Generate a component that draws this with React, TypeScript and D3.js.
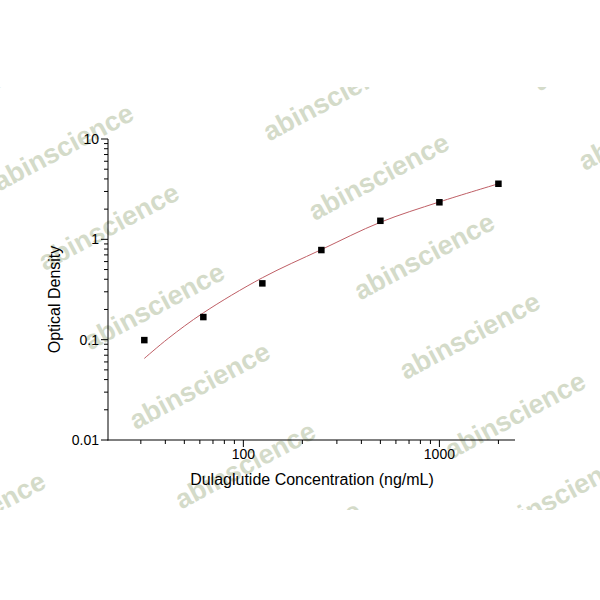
import React from 'react';
import * as d3 from 'd3';

// Standards (ng/mL) and measured optical density
const concentrations = [31.25, 62.5, 125, 250, 500, 1000, 2000];
const odValues = [0.099, 0.168, 0.364, 0.782, 1.53, 2.34, 3.58];

// Fitted curve
const fitX = [31.25, 41.4, 62.5, 125, 250, 500, 1000, 2000];
const fitY = [0.065, 0.103, 0.185, 0.414, 0.79, 1.48, 2.36, 3.58];

const xMajorTicks = [100, 1000];
const xTickLabels = ['100', '1000'];
const yMajorTicks = [0.01, 0.1, 1, 10];
const yTickLabels = ['0.01', '0.1', '1', '10'];
const xDomain = [20.4, 2430];
const yDomain = [0.01, 10];

const xTitle = 'Dulaglutide Concentration (ng/mL)';
const yTitle = 'Optical Density';
const watermarkText = 'abinscience';

const FONT = '"Liberation Sans", Arial, Helvetica, sans-serif';

export default function App() {
  const W = 600;
  const H = 600;
  const left = 108;
  const right = 515;
  const top = 139;
  const bottom = 440;

  const x = d3.scaleLog().domain(xDomain).range([left, right]);
  const y = d3.scaleLog().domain(yDomain).range([bottom, top]);

  const xMinor = x.ticks().filter((t) => !xMajorTicks.some((m) => Math.abs(m - t) < 1e-9));
  const yMinor = y.ticks().filter((t) => !yMajorTicks.some((m) => Math.abs(m - t) / m < 1e-6));

  const fitLine = d3
    .line<number>()
    .x((_, i) => x(fitX[i]))
    .y((d) => y(d))
    .curve(d3.curveCatmullRom.alpha(0.5));

  // watermark tiling (only the tiles that show inside the watermark band)
  const clipTop = 87;
  const clipBottom = 510;
  const marks: { cx: number; cy: number }[] = [];
  for (let i = -1; i <= 2; i++) {
    for (let j = -1; j <= 6; j++) {
      const cx = 63 + 270 * i + 45.5 * j;
      const cy = 147 - 50 * i + 79.5 * j;
      if (cx + 70 > 5 && cx - 70 < W && cy - 43 < clipBottom && cy + 43 > clipTop) {
        marks.push({ cx, cy });
      }
    }
  }

  const markerSize = 6.5;

  return (
    <svg
      width={W}
      height={H}
      viewBox={`0 0 ${W} ${H}`}
      style={{ position: 'absolute', left: 0, top: 0, background: '#fff' }}
      fontFamily={FONT}
    >
      <rect x={0} y={0} width={W} height={H} fill="#fff" />
      <defs>
        <clipPath id="wmclip">
          <rect x={0} y={clipTop} width={W} height={clipBottom - clipTop} />
        </clipPath>
      </defs>
      <g clipPath="url(#wmclip)">
        {marks.map((m, k) => (
          <text
            key={k}
            x={0}
            y={0}
            transform={`translate(${m.cx},${m.cy}) rotate(-28)`}
            textAnchor="middle"
            dy="0.35em"
            fontSize={27}
            fontWeight="bold"
            fill="#d4dbc9"
          >
            {watermarkText}
          </text>
        ))}
      </g>

      {/* fitted curve */}
      <path d={fitLine(fitY) || ''} fill="none" stroke="#bf5f66" strokeWidth={1} />

      {/* points */}
      {concentrations.map((c, i) => (
        <rect
          key={i}
          x={x(c) - markerSize / 2}
          y={y(odValues[i]) - markerSize / 2}
          width={markerSize}
          height={markerSize}
          fill="#000"
        />
      ))}

      {/* axes */}
      <g stroke="#000" strokeWidth={1} fill="none">
        <line x1={left} y1={top} x2={left} y2={bottom + 0.5} />
        <line x1={left - 0.5} y1={bottom} x2={right} y2={bottom} />
        {yMajorTicks.map((t) => (
          <line key={'ym' + t} x1={left - 7} x2={left} y1={y(t)} y2={y(t)} />
        ))}
        {yMinor.map((t) => (
          <line key={'yn' + t} x1={left - 4} x2={left} y1={y(t)} y2={y(t)} />
        ))}
        {xMajorTicks.map((t) => (
          <line key={'xm' + t} x1={x(t)} x2={x(t)} y1={bottom} y2={bottom + 7} />
        ))}
        {xMinor.map((t) => (
          <line key={'xn' + t} x1={x(t)} x2={x(t)} y1={bottom} y2={bottom + 4} />
        ))}
      </g>

      {yMajorTicks.map((t, i) => (
        <text key={'yl' + t} x={left - 9} y={y(t)} dy="0.36em" textAnchor="end" fontSize={14} fill="#000">
          {yTickLabels[i]}
        </text>
      ))}
      {xMajorTicks.map((t, i) => (
        <text key={'xl' + t} x={x(t)} y={458.5} textAnchor="middle" fontSize={14} fill="#000">
          {xTickLabels[i]}
        </text>
      ))}

      <text x={312} y={485} textAnchor="middle" fontSize={16} fill="#000">
        {xTitle}
      </text>
      <text
        transform={`translate(60,${(top + bottom) / 2 + 10}) rotate(-90)`}
        textAnchor="middle"
        fontSize={16}
        fill="#000"
      >
        {yTitle}
      </text>
    </svg>
  );
}
